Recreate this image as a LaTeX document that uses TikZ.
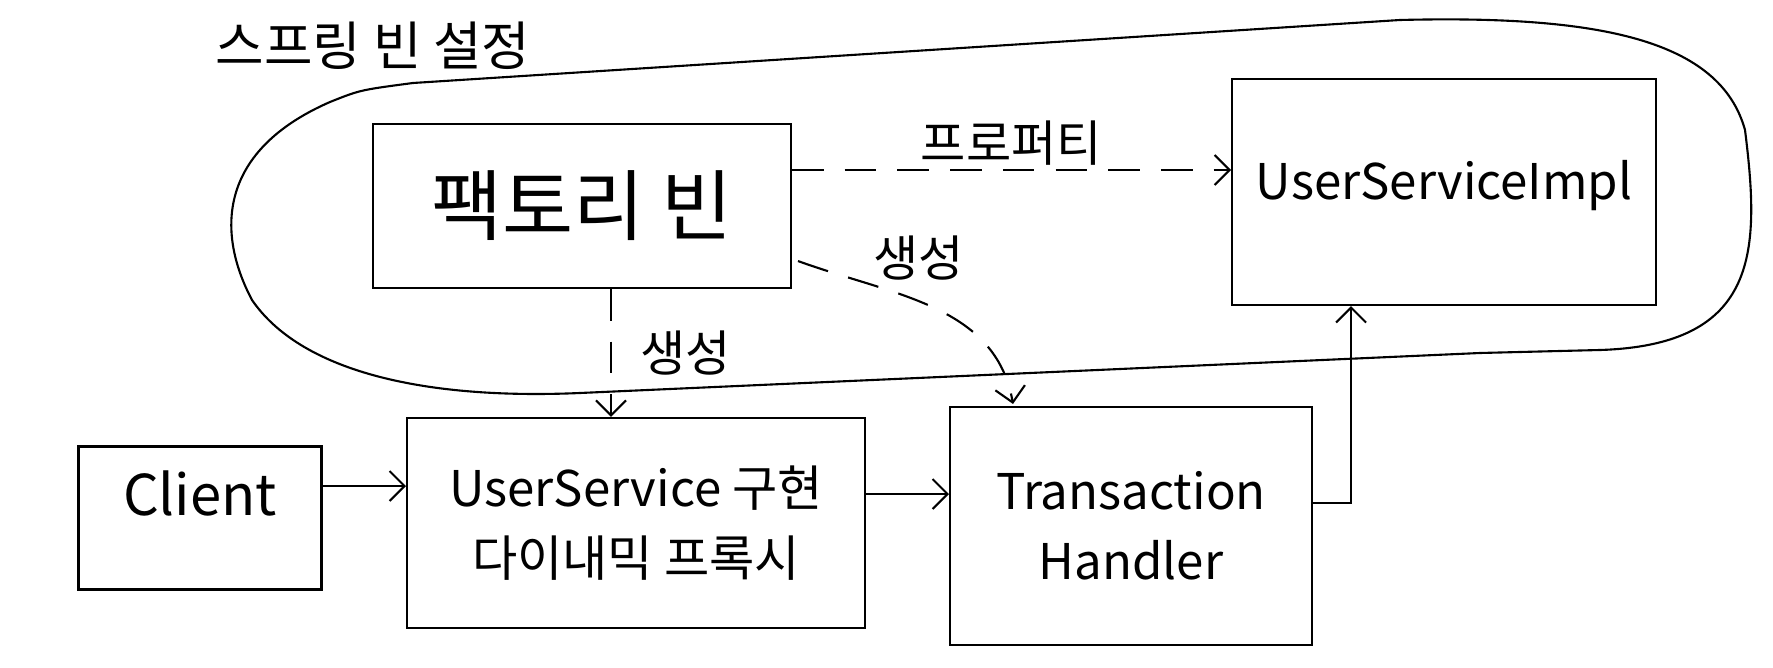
\documentclass[tikz,border=0pt]{standalone}
\usepackage{fontspec}
\setmainfont{Noto Sans CJK KR}
\usepackage{tikz}
\tikzset{%
    sketch/.style={every node/.style={draw, line width=1.2pt, inner sep=0pt, font=\fontsize{28}{40}\selectfont, align=center}},
    plain/.style={draw=none, font=\fontsize{28}{34}\selectfont},
    barb/.style={-{Straight Barb[length=3mm,width=6mm]}, line width=1.2pt},
    dashbarb/.style={barb, dash pattern=on 18pt off 12pt},
}
\usetikzlibrary{arrows.meta}
\usetikzlibrary{positioning, calc}

\begin{document}
\begin{tikzpicture}[x=0.02cm, y=-0.02cm, sketch]
	\useasboundingbox (0,0) rectangle (1773,668);

	\draw[line width=1.2pt] (413,83) -- (1400,20) .. controls (1600,15) and (1720,40) .. (1745,130)
		.. controls (1760,250) and (1760,345) .. (1600,350) -- (1480,353) -- (580,393)
		.. controls (420,400) and (300,370) .. (252,300) .. controls (215,230) and (220,150) .. (330,102)
		.. controls (360,90) .. cycle;
	\node[plain, font=\fontsize{30}{36}\selectfont](title) at (373,46) {스프링 빈 설정};

	\node[minimum width=8.36cm, minimum height=3.28cm](factory) at (582,206) {\fontsize{44}{50}\selectfont 팩토리 빈};
	\node[minimum width=8.48cm, minimum height=4.52cm, text depth=0.5cm](impl) at (1444,192) {UserServiceImpl};

	\node[minimum width=4.86cm, minimum height=2.86cm, text depth=1cm, font=\fontsize{32}{40}\selectfont](client) at (200,518) {Client};
	\node[minimum width=9.16cm, minimum height=4.2cm](proxy) at (636,523) {UserService 구현\\다이내믹 프록시};
	\node[minimum width=7.24cm, minimum height=4.76cm](handler) at (1131,526) {Transaction\\Handler};

	\draw[dashbarb] ($(factory.east)+(0,-36)$) to node[plain, above=2pt]{프로퍼티} ($(impl.west)+(0,-22)$);
	\draw[dashbarb] ($(factory.south)+(29,0)$) to node[plain, right=16pt]{생성} ($(proxy.north)+(-25,0)$);
	\draw[dashbarb] ($(factory.south east)+(6,-28)$) to[out=-20, in=100] node[plain, pos=0.3, above right=4pt and -6pt]{생성} ($(handler.north)+(-118,-2)$);

	\draw[barb] ($(client.east)+(0,-32)$) to ($(proxy.west)+(0,-37)$);
	\draw[barb] ($(proxy.east)+(0,-29)$) to ($(handler.west)+(0,-32)$);
	\draw[barb] ($(handler.east)+(0,-23)$) -| ($(impl.south)+(-93,0)$);
\end{tikzpicture}
\end{document}
